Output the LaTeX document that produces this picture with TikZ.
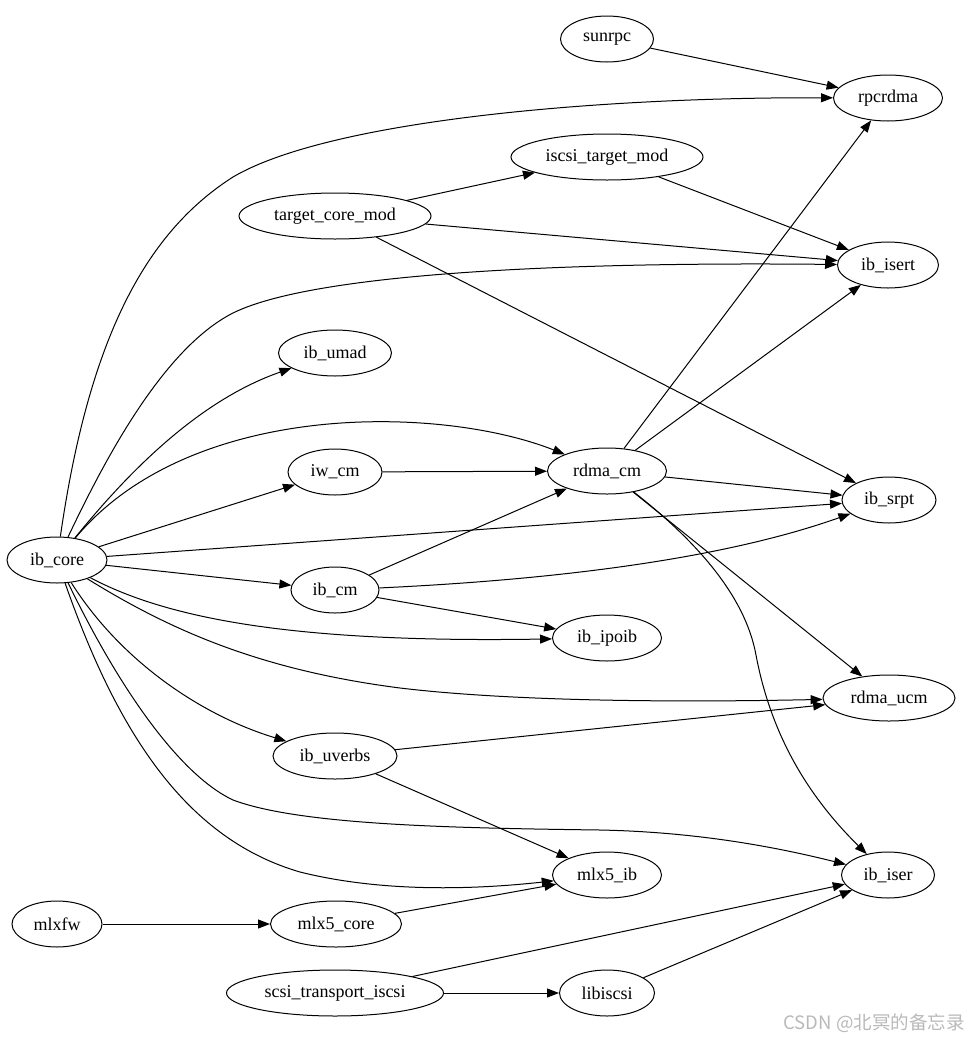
\documentclass[tikz,border=0pt]{standalone}
\usepackage{fontspec}
\setmainfont{Liberation Serif}
\newfontfamily\cjkwm{Noto Sans CJK SC}
\usetikzlibrary{shapes.geometric,arrows.meta}
\definecolor{wmgray}{RGB}{185,185,185}
\tikzset{
  mod/.style={draw, ellipse, inner sep=0pt, minimum height=46pt, line width=1pt,
              font=\fontsize{18}{20}\selectfont},
  conn/.style={-{Triangle[length=12pt,width=9pt]}, line width=1pt},
}
\begin{document}
\begin{tikzpicture}[x=1pt,y=-1pt]
\useasboundingbox (0,0) rectangle (970,1042);
% nodes
\node[mod, minimum width=93pt]  (sunrpc)   at (607,39)  {sunrpc};
\node[mod, minimum width=109pt] (rpcrdma)  at (888,98)  {rpcrdma};
\node[mod, minimum width=192pt] (iscsitm)  at (607,157) {iscsi\_target\_mod};
\node[mod, minimum width=192pt] (targetcm) at (335,216) {target\_core\_mod};
\node[mod, minimum width=101pt] (ibisert)  at (888,265) {ib\_isert};
\node[mod, minimum width=113pt] (ibumad)   at (335,353) {ib\_umad};
\node[mod, minimum width=94pt]  (iwcm)     at (335,472) {iw\_cm};
\node[mod, minimum width=119pt] (rdmacm)   at (607,471) {rdma\_cm};
\node[mod, minimum width=94pt]  (ibsrpt)   at (889,500) {ib\_srpt};
\node[mod, minimum width=100pt] (ibcore)   at (57,560)  {ib\_core};
\node[mod, minimum width=88pt]  (ibcm)     at (335,590) {ib\_cm};
\node[mod, minimum width=109pt] (ibipoib)  at (607,638) {ib\_ipoib};
\node[mod, minimum width=132pt] (rdmaucm)  at (889,698) {rdma\_ucm};
\node[mod, minimum width=124pt] (ibuverbs) at (335,756) {ib\_uverbs};
\node[mod, minimum width=109pt] (mlxib)    at (607,875) {mlx5\_ib};
\node[mod, minimum width=93pt]  (ibiser)   at (888,875) {ib\_iser};
\node[mod, minimum width=90pt]  (mlxfw)    at (57,924)  {mlxfw};
\node[mod, minimum width=131pt] (mlxcore)  at (336,924) {mlx5\_core};
\node[mod, minimum width=217pt] (scsiti)   at (335,993) {scsi\_transport\_iscsi};
\node[mod, minimum width=95pt]  (libiscsi) at (607,993) {libiscsi};
% watermark
\node[text=wmgray, font=\cjkwm\fontsize{18.5}{20}\selectfont, inner sep=0pt] (wm) at (874,1023) {CSDN @北冥的备忘录};
% straight edges
\draw[conn] (sunrpc) -- (rpcrdma);
\draw[conn] (rdmacm) -- (rpcrdma);
\draw[conn] (targetcm) -- (iscsitm);
\draw[conn] (iscsitm) -- (ibisert);
\draw[conn] (targetcm) -- (ibisert);
\draw[conn] (rdmacm) -- (ibisert);
\draw[conn] (targetcm) -- (ibsrpt);
\draw[conn] (ibcore) -- (iwcm);
\draw[conn] (iwcm) -- (rdmacm);
\draw[conn] (rdmacm) -- (ibsrpt);
\draw[conn] (ibcore) -- (ibsrpt);
\draw[conn] (ibcm) -- (rdmacm);
\draw[conn] (ibcore) -- (ibcm);
\draw[conn] (ibcm) -- (ibipoib);
\draw[conn] (rdmacm) -- (rdmaucm);
\draw[conn] (ibuverbs) -- (rdmaucm);
\draw[conn] (ibuverbs) -- (mlxib);
\draw[conn] (mlxcore) -- (mlxib);
\draw[conn] (mlxfw) -- (mlxcore);
\draw[conn] (scsiti) -- (ibiser);
\draw[conn] (scsiti) -- (libiscsi);
\draw[conn] (libiscsi) -- (ibiser);
% curved edges
\draw[conn] (ibcore) .. controls (90,330) and (150,230) .. (233,177)
                     .. controls (330,120) and (600,97) .. (rpcrdma);
\draw[conn] (ibcore) .. controls (100,470) and (160,350) .. (233,313)
                     .. controls (320,270) and (600,262) .. (ibisert);
\draw[conn] (ibcore) .. controls (130,470) and (200,400) .. (ibumad);
\draw[conn] (ibcore) .. controls (190,400) and (440,405) .. (rdmacm);
\draw[conn] (ibcore) .. controls (170,620) and (300,643) .. (ibipoib);
\draw[conn] (ibcore) .. controls (170,630) and (260,670) .. (400,688)
                     .. controls (500,700) and (650,703) .. (rdmaucm);
\draw[conn] (ibcore) .. controls (120,660) and (200,715) .. (ibuverbs);
\draw[conn] (ibcore) .. controls (120,690) and (180,775) .. (233,800)
                     .. controls (300,825) and (450,828) .. (600,830)
                     .. controls (700,832) and (780,848) .. (ibiser);
\draw[conn] (ibcore) .. controls (120,740) and (190,840) .. (300,872)
                     .. controls (380,892) and (470,890) .. (mlxib);
\draw[conn] (ibcm) .. controls (550,580) and (720,560) .. (ibsrpt);
\draw[conn] (rdmacm) .. controls (695,540) and (745,595) .. (756,655)
                     .. controls (772,740) and (812,800) .. (ibiser);
\end{tikzpicture}
\end{document}
